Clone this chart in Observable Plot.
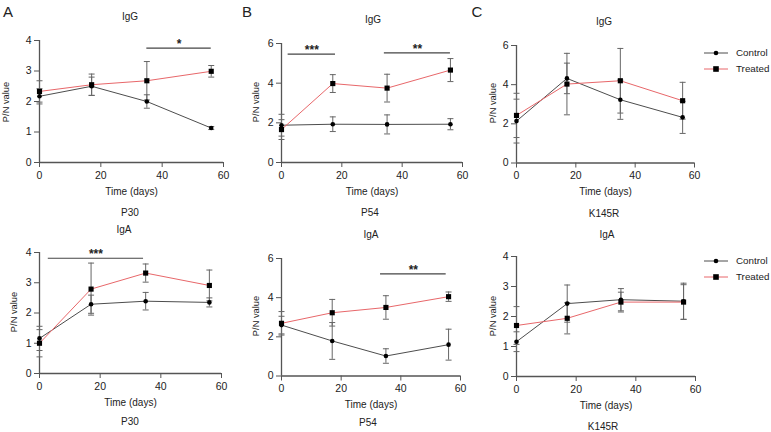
<!DOCTYPE html>
<html><head><meta charset="utf-8">
<script src="https://cdn.jsdelivr.net/npm/d3@7"></script>
<script src="https://cdn.jsdelivr.net/npm/@observablehq/plot@0.6"></script>
<style>
body{margin:0;background:#fff;}
#root{position:relative;width:771px;height:432px;font-family:"Liberation Sans",Arial,sans-serif;color:#222;overflow:hidden;background:#fff}
.abs{position:absolute;white-space:nowrap;line-height:1;transform:translate(-50%,-50%)}
.rot{position:absolute;white-space:nowrap;line-height:1;transform:translate(-50%,-50%) rotate(-90deg);font-size:9.3px}
.panel{position:absolute}
.leg{position:absolute;line-height:1}
</style></head><body><div id="root"></div><script>
// ---- data ----
const days = [0, 17, 35, 56];
const xTicks = [0, 20, 40, 60];
const seriesNames = ["Control", "Treated"];

const p30IgG_control    = [2.17, 2.50, 2.00, 1.13];
const p30IgG_controlErr = [0.25, 0.30, 0.22, 0.05];
const p30IgG_treated    = [2.33, 2.55, 2.68, 2.99];
const p30IgG_treatedErr = [0.35, 0.35, 0.63, 0.19];
const p30IgG_sig = [{from: 35, to: 56, y: 3.75, label: "*"}];

const p54IgG_control    = [1.88, 1.93, 1.92, 1.93];
const p54IgG_controlErr = [0.55, 0.37, 0.48, 0.28];
const p54IgG_treated    = [1.66, 3.98, 3.75, 4.66];
const p54IgG_treatedErr = [0.50, 0.45, 0.70, 0.58];
const p54IgG_sig = [{from: 2.2, to: 17.9, y: 5.46, label: "***"}, {from: 34.1, to: 56, y: 5.53, label: "**"}];

const k145rIgG_control    = [2.14, 4.32, 3.23, 2.33];
const k145rIgG_controlErr = [1.12, 0.78, 1.00, 0.82];
const k145rIgG_treated    = [2.43, 4.03, 4.20, 3.18];
const k145rIgG_treatedErr = [1.13, 1.57, 1.65, 0.94];
const k145rIgG_sig = [];

const p30IgA_control    = [1.16, 2.29, 2.39, 2.35];
const p30IgA_controlErr = [0.40, 0.30, 0.29, 0.15];
const p30IgA_treated    = [1.00, 2.79, 3.32, 2.91];
const p30IgA_treatedErr = [0.45, 0.86, 0.30, 0.51];
const p30IgA_sig = [{from: 2.9, to: 34.3, y: 3.81, label: "***"}];

const p54IgA_control    = [2.60, 1.79, 1.02, 1.60];
const p54IgA_controlErr = [0.45, 0.94, 0.37, 0.79];
const p54IgA_treated    = [2.69, 3.23, 3.50, 4.05];
const p54IgA_treatedErr = [0.60, 0.68, 0.60, 0.24];
const p54IgA_sig = [{from: 33.2, to: 55.2, y: 5.22, label: "**"}];

const k145rIgA_control    = [1.16, 2.43, 2.56, 2.51];
const k145rIgA_controlErr = [0.33, 0.62, 0.37, 0.60];
const k145rIgA_treated    = [1.70, 1.94, 2.48, 2.48];
const k145rIgA_treatedErr = [0.63, 0.52, 0.33, 0.58];
const k145rIgA_sig = [];

// ---- layout (pixels) ----
const panels = [
  {c: p30IgG_control, ce: p30IgG_controlErr, t: p30IgG_treated, te: p30IgG_treatedErr, sig: p30IgG_sig, ymax: 4, yticks: [0,1,2,3,4], x0: 39, x1: 223, yT: 40, yB: 162, ylab: [7, 102]},
  {c: p54IgG_control, ce: p54IgG_controlErr, t: p54IgG_treated, te: p54IgG_treatedErr, sig: p54IgG_sig, ymax: 6, yticks: [0,2,4,6], x0: 281, x1: 462, yT: 43, yB: 162, ylab: [257, 102]},
  {c: k145rIgG_control, ce: k145rIgG_controlErr, t: k145rIgG_treated, te: k145rIgG_treatedErr, sig: k145rIgG_sig, ymax: 6, yticks: [0,2,4,6], x0: 516, x1: 694, yT: 44.5, yB: 162, ylab: [494, 103], legendY: 53},
  {c: p30IgA_control, ce: p30IgA_controlErr, t: p30IgA_treated, te: p30IgA_treatedErr, sig: p30IgA_sig, ymax: 4, yticks: [0,1,2,3,4], x0: 39, x1: 221, yT: 252, yB: 373, ylab: [15, 312]},
  {c: p54IgA_control, ce: p54IgA_controlErr, t: p54IgA_treated, te: p54IgA_treatedErr, sig: p54IgA_sig, ymax: 6, yticks: [0,2,4,6], x0: 281, x1: 460, yT: 257.5, yB: 375, ylab: [257, 316]},
  {c: k145rIgA_control, ce: k145rIgA_controlErr, t: k145rIgA_treated, te: k145rIgA_treatedErr, sig: k145rIgA_sig, ymax: 4, yticks: [0,1,2,3,4], x0: 516, x1: 695, yT: 256, yB: 376, ylab: [494, 316], legendY: 261}
];

const labels = [
  ["A", 8, 11, 15], ["B", 247, 11, 15], ["C", 477, 11, 15],
  ["IgG", 130, 17, 10], ["IgG", 373, 20, 10], ["IgG", 604, 22, 10],
  ["P30", 130, 213, 10], ["P54", 370, 213, 10], ["K145R", 604, 214, 10],
  ["IgA", 124, 230, 10], ["IgA", 371, 235, 10], ["IgA", 607, 235, 10],
  ["P30", 130, 422, 10], ["P54", 368, 423, 10], ["K145R", 603, 427, 10]
];

const CTRL = "#4d4d4d", TREAT = "#e8676a", ERR = "#666", AX = "#555";
const capSym = {draw(ctx, size) { const w = 3; ctx.moveTo(-w, 0); ctx.lineTo(w, 0); }};
const root = document.getElementById("root");

const ML = 40, MR = 10, MT = 14, MB = 40;
for (const p of panels) {
  const rows = (vals, errs, s) => days.map((d, i) => ({x: d, y: vals[i], lo: vals[i] - errs[i], hi: vals[i] + errs[i], s}));
  const C = rows(p.c, p.ce, "Control"), T = rows(p.t, p.te, "Treated");
  const both = C.concat(T);
  const w = p.x1 - p.x0 + ML + MR, h = p.yB - p.yT + MT + MB;
  const svg = Plot.plot({
    width: w, height: h, marginLeft: ML, marginRight: MR, marginTop: MT, marginBottom: MB,
    style: {fontFamily: '"Liberation Sans", Arial, sans-serif', fontSize: "10.5px", color: "#222", background: "transparent", overflow: "visible"},
    x: {domain: [0, 60]},
    y: {domain: [0, p.ymax]},
    marks: [
      Plot.axisX({ticks: xTicks, tickFormat: d => String(d), tickSize: 5, tickPadding: 4, stroke: AX, label: null}),
      Plot.axisY({ticks: p.yticks, tickFormat: d => String(d), tickSize: 5, tickPadding: 3, stroke: AX, label: null}),
      Plot.ruleX([0], {stroke: AX, strokeWidth: 1.3}),
      Plot.ruleY([0], {stroke: AX, strokeWidth: 1.3}),
      Plot.text(["Time (days)"], {frameAnchor: "bottom", dy: 32, fontSize: 10, fill: "#222"}),
      Plot.line(C, {x: "x", y: "y", stroke: CTRL, strokeWidth: 1}),
      Plot.line(T, {x: "x", y: "y", stroke: TREAT, strokeWidth: 1}),
      Plot.ruleX(both, {x: "x", y1: "lo", y2: "hi", stroke: ERR, strokeWidth: 1}),
      Plot.dot(both, {x: "x", y: "lo", symbol: capSym, stroke: ERR, strokeWidth: 1}),
      Plot.dot(both, {x: "x", y: "hi", symbol: capSym, stroke: ERR, strokeWidth: 1}),
      Plot.dot(C, {x: "x", y: "y", symbol: "circle", r: 2.3, fill: "#000", stroke: "none"}),
      Plot.dot(T, {x: "x", y: "y", symbol: "square", r: 2.9, fill: "#000", stroke: "none"}),
      Plot.ruleY(p.sig, {x1: "from", x2: "to", y: "y", stroke: "#444", strokeWidth: 1.2}),
      Plot.text(p.sig, {x: d => (d.from + d.to) / 2, y: "y", text: "label", dy: -4, fontSize: 12, fontWeight: "bold", fill: "#222"})
    ]
  });
  svg.classList.add("panel");
  svg.style.left = (p.x0 - ML) + "px";
  svg.style.top = (p.yT - MT) + "px";
  root.appendChild(svg);

  const yl = document.createElement("div");
  yl.className = "rot";
  yl.textContent = "P/N value";
  yl.style.left = p.ylab[0] + "px"; yl.style.top = p.ylab[1] + "px";
  root.appendChild(yl);

  if (p.legendY != null) {
    seriesNames.forEach((name, i) => {
      const cy = p.legendY + i * 16;
      const leg = document.createElement("div");
      leg.className = "leg";
      leg.style.left = "703px"; leg.style.top = (cy - 6) + "px";
      const col = i === 0 ? CTRL : TREAT;
      const mk = i === 0 ? '<circle cx="13" cy="6" r="2.3" fill="#000"/>' : '<rect x="10.2" y="3.2" width="5.6" height="5.6" fill="#000"/>';
      leg.innerHTML = `<svg width="26" height="12" style="position:absolute;left:0;top:0"><line x1="1" x2="25" y1="6" y2="6" stroke="${col}" stroke-width="1"/>${mk}</svg><span style="position:absolute;left:33px;top:1px;font-size:9.8px;white-space:nowrap">${name}</span>`;
      root.appendChild(leg);
    });
  }
}

for (const [txt, x, y, fs] of labels) {
  const d = document.createElement("div");
  d.className = "abs";
  d.textContent = txt;
  d.style.left = x + "px"; d.style.top = y + "px"; d.style.fontSize = fs + "px";
  root.appendChild(d);
}
</script></body></html>
